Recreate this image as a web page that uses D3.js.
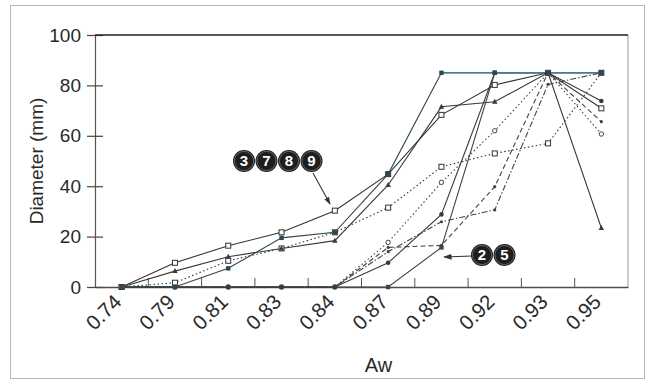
<!DOCTYPE html>
<html><head><meta charset="utf-8">
<script src="https://cdn.jsdelivr.net/npm/d3@7"></script>
<style>
html,body{margin:0;padding:0;background:#fff;}
svg{display:block;font-family:"Liberation Sans",Arial,sans-serif;}
</style></head>
<body><svg id="c" width="653" height="389"></svg>
<script>
// ---- data ----
const categories = ["0.74","0.79","0.81","0.83","0.84","0.87","0.89","0.92","0.93","0.95"];
const yTicks = [0,20,40,60,80,100];
const seriesA = [0, 9.6, 16.4, 21.7, 30.3, 44.8, 68.3, 80.2, 85, 70.9];
const seriesB = [0, 0, 7.4, 19.5, 21.7, 44.8, 85, 85, 85, 85];
const seriesC = [0, 6.3, 12, 15.3, 18.4, 40.5, 71.5, 73.5, 85, 23.4];
const seriesD = [0, 1.7, 10.4, 15.3, 21.7, 31.5, 47.7, 53, 57, 85];
const seriesE = [0, 0, 0, 0, 0, 17.7, 41.5, 62, 85, 60.7];
const seriesF = [0, 0, 0, 0, 0, 9.6, 28.8, 85, 85, 73.8];
const seriesG = [0, 0, 0, 0, 0, 15.7, 16.5, 39.8, 85, 65.6];
const seriesH = [0, 0, 0, 0, 0, 14, 25.9, 30.6, 80.4, 85];
const seriesI = [0, 0, 0, 0, 0, 0, 15.7, 85, 85, 85];
const labelGroup1 = ["3","7","8","9"];
const labelGroup2 = ["2","5"];
const xTitle = "Aw";
const yTitle = "Diameter (mm)";

// ---- styles (separate from data) ----
const allSeries = [
  {v: seriesE, dash: "1.5,2.5", color: "#444", marker: "ocircle"},
  {v: seriesG, dash: "5,3", color: "#444", marker: "dot"},
  {v: seriesH, dash: "6,2,1.5,2", color: "#444", marker: "dot"},
  {v: seriesD, dash: "1.5,2.5", color: "#333", marker: "osquare"},
  {v: seriesI, dash: null, color: "#444", marker: "fsquare"},
  {v: seriesF, dash: null, color: "#3a3a3a", marker: "fcircle"},
  {v: seriesC, dash: null, color: "#3a3a3a", marker: "triangle"},
  {v: seriesA, dash: null, color: "#333", marker: "osquare"},
  {v: seriesB, dash: null, color: "#2d4650", marker: "fsquare", tealFrom: 6}
];

const svg = d3.select("#c");
svg.append("rect").attr("x",10.5).attr("y",5.5).attr("width",634).attr("height",373)
  .attr("fill","#fff").attr("stroke","#b8b8b8").attr("stroke-width",1);

const pL = 95, pR = 628, pT = 35, pB = 287;
const x = d3.scaleBand().domain(categories).range([pL, pR]).padding(0);
const y = d3.scaleLinear().domain([0,100]).range([pB, pT]);
const cx = c => x(c) + x.bandwidth()/2;

svg.append("line").attr("x1",pR).attr("x2",pR).attr("y1",pT).attr("y2",pB)
  .attr("stroke","#a9a9a9").attr("stroke-width",1.2);

const yAxis = d3.axisLeft(y).tickValues(yTicks).tickSizeInner(8).tickSizeOuter(0).tickPadding(7);
const gy = svg.append("g").attr("transform",`translate(${pL},0)`).call(yAxis);
gy.select(".domain").attr("stroke","#555").attr("stroke-width",1.2);
gy.selectAll(".tick line").attr("x2",8).attr("x1",-8).attr("stroke","#444").attr("stroke-width",1.2);
gy.selectAll(".tick text").attr("font-size",19).attr("fill","#2a2a2a").attr("x",-14)
  .attr("font-family","'Liberation Sans',Arial,sans-serif");

svg.append("line").attr("x1",pL).attr("x2",pR).attr("y1",y(100)).attr("y2",y(100))
  .attr("stroke","#222").attr("stroke-width",1.4);

const xAxis = d3.axisBottom(x).tickSize(0).tickPadding(6).tickSizeOuter(0);
const gx = svg.append("g").attr("transform",`translate(0,${pB})`).call(xAxis);
gx.select(".domain").attr("stroke","#5a4a40").attr("stroke-width",1.4);
gx.selectAll(".tick text").attr("font-size",20.5).attr("fill","#2a2a2a")
  .attr("font-family","'Liberation Sans',Arial,sans-serif")
  .attr("text-anchor","end").attr("dy","0.35em")
  .attr("transform",`translate(-4,11) rotate(-45)`).attr("y",0).attr("x",0);

const bounds = categories.slice(1).map(c => x(c));
svg.append("g").selectAll("line").data(bounds).join("line")
  .attr("x1",d=>d).attr("x2",d=>d).attr("y1",pB).attr("y2",pB-9)
  .attr("stroke","#555").attr("stroke-width",1);

const line = d3.line().x((d,i)=>cx(categories[i])).y(d=>y(d));
const gl = svg.append("g");
allSeries.forEach(s=>{
  gl.append("path").attr("d",line(s.v)).attr("fill","none")
    .attr("stroke",s.color).attr("stroke-width",1.1)
    .attr("stroke-dasharray",s.dash);
  if (s.tealFrom !== undefined) {
    const sub = s.v.slice(s.tealFrom);
    const l2 = d3.line().x((d,i)=>cx(categories[i+s.tealFrom])).y(d=>y(d));
    gl.append("path").attr("d",l2(sub)).attr("fill","none")
      .attr("stroke","#3d8094").attr("stroke-width",1.5);
  }
});
allSeries.forEach(s=>{
  const g = gl.append("g");
  s.v.forEach((v,i)=>{
    const px = cx(categories[i]), py = y(v);
    if (s.marker==="osquare") g.append("rect").attr("x",px-2.5).attr("y",py-2.5).attr("width",5).attr("height",5).attr("fill","#fff").attr("stroke",s.color).attr("stroke-width",1);
    else if (s.marker==="fsquare") g.append("rect").attr("x",px-2.2).attr("y",py-2.2).attr("width",4.4).attr("height",4.4).attr("fill",s.color);
    else if (s.marker==="triangle") g.append("path").attr("d",`M${px},${py-3}L${px+2.8},${py+2}L${px-2.8},${py+2}Z`).attr("fill",s.color);
    else if (s.marker==="fcircle") g.append("circle").attr("cx",px).attr("cy",py).attr("r",2.3).attr("fill",s.color);
    else if (s.marker==="ocircle") g.append("circle").attr("cx",px).attr("cy",py).attr("r",2.2).attr("fill","#fff").attr("stroke",s.color);
    else g.append("circle").attr("cx",px).attr("cy",py).attr("r",1.6).attr("fill",s.color);
  });
});

svg.append("text").attr("x",(pL+pR)/2+17).attr("y",372).attr("text-anchor","middle")
  .attr("font-size",20).attr("fill","#2a2a2a").text(xTitle);
svg.append("text").attr("transform",`translate(43,${(pT+pB)/2}) rotate(-90)`)
  .attr("text-anchor","middle").attr("font-size",19).attr("fill","#2a2a2a").text(yTitle);

const defs = svg.append("defs");
defs.append("marker").attr("id","ah").attr("viewBox","0 0 10 10").attr("refX",9).attr("refY",5)
  .attr("markerWidth",7).attr("markerHeight",7).attr("orient","auto")
  .append("path").attr("d","M0,1.5L10,5L0,8.5Z").attr("fill","#333");

function badges(labels, x0, y0){
  const g = svg.append("g");
  labels.forEach((t,i)=>{
    const bx = x0 + i*22.5;
    g.append("circle").attr("cx",bx).attr("cy",y0).attr("r",11).attr("fill","#1e1e1e");
    g.append("circle").attr("cx",bx).attr("cy",y0).attr("r",9.6).attr("fill","none").attr("stroke","#777").attr("stroke-width",0.8);
    g.append("text").attr("x",bx).attr("y",y0).attr("dy","0.36em").attr("text-anchor","middle")
      .attr("font-size",15).attr("font-weight","bold").attr("fill","#fff").text(t);
  });
}
svg.append("line").attr("x1",313).attr("y1",173).attr("x2",330).attr("y2",204)
  .attr("stroke","#333").attr("stroke-width",1.1).attr("marker-end","url(#ah)");
badges(labelGroup1, 244, 161);
svg.append("line").attr("x1",472).attr("y1",256).attr("x2",444).attr("y2",257)
  .attr("stroke","#333").attr("stroke-width",1.2).attr("marker-end","url(#ah)");
badges(labelGroup2, 482, 255);
</script></body></html>
